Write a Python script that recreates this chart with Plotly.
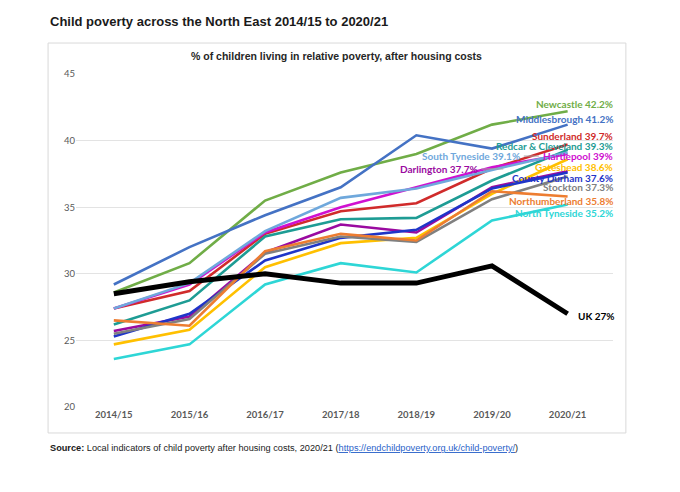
import plotly.graph_objects as go

years = ["2014/15", "2015/16", "2016/17", "2017/18", "2018/19", "2019/20", "2020/21"]

newcastle = [28.6, 30.8, 35.5, 37.6, 39.0, 41.2, 42.2]
middlesbrough = [29.2, 32.0, 34.4, 36.5, 40.4, 39.4, 41.2]
sunderland = [27.4, 28.7, 33.0, 34.7, 35.3, 37.9, 39.7]
redcar = [26.2, 28.0, 32.8, 34.1, 34.2, 37.0, 39.3]
hartlepool = [27.4, 29.2, 33.1, 35.0, 36.5, 38.0, 39.0]
south_tyneside = [27.4, 29.3, 33.2, 35.7, 36.4, 37.8, 39.1]
darlington = [25.7, 26.8, 31.6, 33.7, 33.1, 36.5, 37.7]
gateshead = [24.7, 25.8, 30.5, 32.3, 32.7, 36.0, 38.6]
county_durham = [25.3, 27.0, 31.0, 32.7, 33.3, 36.4, 37.6]
stockton = [25.5, 26.6, 31.5, 32.8, 32.4, 35.6, 37.3]
northumberland = [26.5, 26.1, 31.7, 33.0, 32.5, 36.2, 35.8]
north_tyneside = [23.6, 24.7, 29.2, 30.8, 30.1, 34.0, 35.2]
uk = [28.5, 29.4, 30.0, 29.3, 29.3, 30.6, 27.0]

# name, values, colour, label right edge (paper x), label y (data)
series = [
    ("Newcastle", newcastle, "#70AD47", 1.004, 42.75),
    ("Middlesbrough", middlesbrough, "#4472C4", 1.004, 41.62),
    ("Sunderland", sunderland, "#D02B2B", 1.004, 40.35),
    ("Redcar & Cleveland", redcar, "#1E9C94", 1.004, 39.6),
    ("Hartlepool", hartlepool, "#D010D0", 1.004, 38.86),
    ("South Tyneside", south_tyneside, "#6FA8DC", 0.830, 38.84),
    ("Darlington", darlington, "#9A0AA0", 0.752, 37.87),
    ("Gateshead", gateshead, "#FFC000", 1.004, 38.03),
    ("County Durham", county_durham, "#1F35C8", 1.004, 37.2),
    ("Stockton", stockton, "#808080", 1.004, 36.53),
    ("Northumberland", northumberland, "#ED7D31", 1.004, 35.47),
    ("North Tyneside", north_tyneside, "#2ED6D6", 1.004, 34.57),
]

x_idx = list(range(len(years)))
label_font = "Lato"

fig = go.Figure()
annotations = []
for name, values, colour, lx, ly in series:
    fig.add_trace(go.Scatter(x=x_idx, y=values, mode="lines", name=name,
                             line=dict(color=colour, width=2.6)))
    annotations.append(dict(x=lx, y=ly, xref="paper", yref="y", xanchor="right", yanchor="middle",
                            text=f"<b>{name} {values[-1]:g}%</b>", showarrow=False,
                            font=dict(family=label_font, size=10, color=colour)))

fig.add_trace(go.Scatter(x=x_idx, y=uk, mode="lines", name="UK",
                         line=dict(color="black", width=5)))
annotations.append(dict(x=0.931, y=26.83, xref="paper", yref="y", xanchor="left", yanchor="middle",
                        text=f"<b>UK {uk[-1]:g}%</b>", showarrow=False,
                        font=dict(family=label_font, size=10, color="black")))

annotations.append(dict(x=-0.052, y=1.159, xref="paper", yref="paper", xanchor="left", yanchor="middle",
                        text="<b>Child poverty across the North East 2014/15 to 2020/21</b>", showarrow=False,
                        font=dict(family="Liberation Sans", size=13, color="#1a1a1a")))
annotations.append(dict(x=0.486, y=1.054, xref="paper", yref="paper", xanchor="center", yanchor="middle",
                        text="<b>% of children living in relative poverty, after housing costs</b>",
                        showarrow=False, font=dict(family="Liberation Sans", size=10.5, color="#262626")))
annotations.append(dict(x=-0.052, y=-0.123, xref="paper", yref="paper", xanchor="left", yanchor="middle",
                        text="<b>Source:</b> Local indicators of child poverty after housing costs, 2020/21 "
                             "(<span style='color:#2a62c9;text-decoration:underline'>"
                             "https://endchildpoverty.org.uk/child-poverty/</span>)",
                        showarrow=False, font=dict(family="Liberation Sans", size=9.2, color="#1a1a1a")))

shapes = [
    dict(type="rect", xref="paper", yref="paper", x0=-0.052, x1=1.024, y0=-0.078, y1=1.093,
         line=dict(color="#D9D9D9", width=1), layer="below"),
    # leader lines for the two labels placed inside the plot
    dict(type="line", xref="x", yref="y", x0=4.86, x1=5.15, y0=37.87, y1=37.87,
         line=dict(color="#A6A6A6", width=1)),
    dict(type="line", xref="x", yref="y", x0=5.42, x1=5.62, y0=38.84, y1=38.84,
         line=dict(color="#A6A6A6", width=1)),
]

fig.update_layout(
    width=680, height=492,
    margin=dict(l=68, r=75, t=66, b=93),
    paper_bgcolor="white", plot_bgcolor="white",
    showlegend=False,
    annotations=annotations,
    shapes=shapes,
    xaxis=dict(range=[-0.5, 6.6], tickvals=x_idx, ticktext=[f"<b>{y}</b>" for y in years],
               showgrid=False, zeroline=False, showline=False, ticks="",
               tickfont=dict(family=label_font, size=9.5, color="#595959")),
    yaxis=dict(range=[20, 45], dtick=5, showgrid=True, gridcolor="#E3E3E3", gridwidth=1,
               zeroline=False, showline=False, ticks="",
               tickfont=dict(family=label_font, size=9.5, color="#595959")),
)

fig.write_html("out.html")
